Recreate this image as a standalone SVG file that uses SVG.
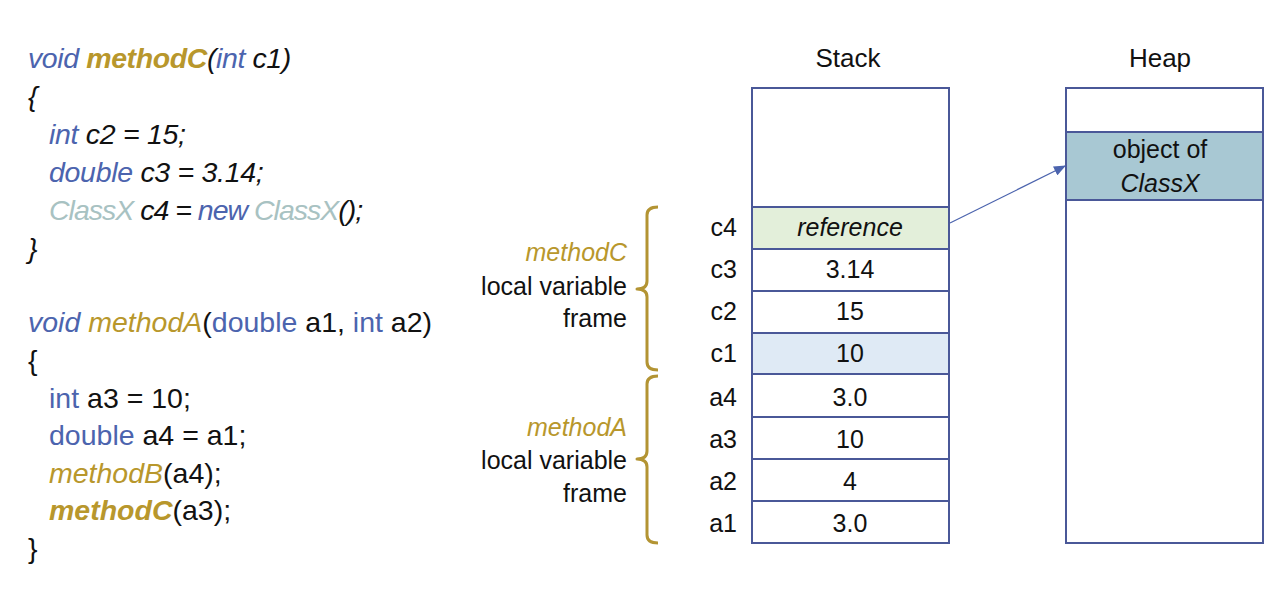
<svg xmlns="http://www.w3.org/2000/svg" width="1280" height="591" viewBox="0 0 1280 591">
<defs>
<style>
text{font-family:"Liberation Sans",Arial,sans-serif;fill:#111;}
.code{font-size:28.5px;}
.it{font-style:italic;}
.bd{font-weight:bold;}
.kw{fill:#4c64ae;}
.mt{fill:#b8972c;}
.cls{fill:#a8c2c2;}
.lbl{font-size:25px;}
.val{font-size:25px;text-anchor:middle;}
.var{font-size:25px;text-anchor:end;}
.ttl{font-size:26px;text-anchor:middle;}
.cell{stroke:#4a5898;stroke-width:2;}
.brace{fill:none;stroke:#b39433;stroke-width:3;stroke-linejoin:round;}
.conn{stroke:#4c64ae;stroke-width:1.2;fill:none;}
</style>
<marker id="arr" markerWidth="12" markerHeight="10" refX="11" refY="5" orient="auto" markerUnits="userSpaceOnUse">
<path d="M0,0 L12,5 L0,10 Z" fill="#4c64ae"/>
</marker>
</defs>
<rect width="1280" height="591" fill="#fff"/>

<g id="codeC" class="code it">
<text x="28" y="68" letter-spacing="-0.4"><tspan class="kw">void </tspan><tspan class="mt bd">methodC</tspan>(<tspan class="kw">int</tspan> c1)</text>
<text x="28" y="106">{</text>
<text x="49" y="144" letter-spacing="-0.3"><tspan class="kw">int</tspan> c2 = 15;</text>
<text x="49" y="182" letter-spacing="-0.3"><tspan class="kw">double</tspan> c3 = 3.14;</text>
<text x="49" y="220" letter-spacing="-1"><tspan class="cls">ClassX</tspan> c4 = <tspan class="kw">new</tspan> <tspan class="cls">ClassX</tspan>();</text>
<text x="28" y="258">}</text>
</g>

<g id="codeA" class="code">
<text x="28" y="332"><tspan class="kw it">void </tspan><tspan class="mt it">methodA</tspan>(<tspan class="kw">double</tspan> a1, <tspan class="kw">int</tspan> a2)</text>
<text x="28" y="370">{</text>
<text x="49" y="408"><tspan class="kw">int</tspan> a3 = 10;</text>
<text x="49" y="445"><tspan class="kw">double</tspan> a4 = a1;</text>
<text x="49" y="483"><tspan class="mt it">methodB</tspan>(a4);</text>
<text x="49" y="520"><tspan class="mt it bd">methodC</tspan>(a3);</text>
<text x="28" y="558">}</text>
</g>

<g id="frameC">
<text class="lbl it mt" x="627" y="261" text-anchor="end">methodC</text>
<text class="lbl" x="627" y="295" text-anchor="end">local variable</text>
<text class="lbl" x="627" y="327" text-anchor="end">frame</text>
<path class="brace" d="M658,207 Q647,207 647,215 L647,281 Q647,289 637,289 Q647,289 647,297 L647,362 Q647,370 658,370"/>
</g>

<g id="frameA">
<text class="lbl it mt" x="627" y="436" text-anchor="end">methodA</text>
<text class="lbl" x="627" y="469" text-anchor="end">local variable</text>
<text class="lbl" x="627" y="502" text-anchor="end">frame</text>
<path class="brace" d="M658,376 Q647,376 647,384 L647,451 Q647,459 637,459 Q647,459 647,467 L647,535 Q647,543 658,543"/>
</g>

<g id="stack">
<text class="ttl" x="848" y="67">Stack</text>
<rect class="cell" x="752" y="88" width="197" height="119" fill="#fff"/>
</g>
<g id="cell-c4"><rect class="cell" x="752" y="207" width="197" height="42" fill="#e3efda"/><text class="var" x="737" y="236">c4</text><text class="val it" x="850" y="236">reference</text></g>
<g id="cell-c3"><rect class="cell" x="752" y="249" width="197" height="42" fill="#fff"/><text class="var" x="737" y="278">c3</text><text class="val" x="850" y="278">3.14</text></g>
<g id="cell-c2"><rect class="cell" x="752" y="291" width="197" height="42" fill="#fff"/><text class="var" x="737" y="320">c2</text><text class="val" x="850" y="320">15</text></g>
<g id="cell-c1"><rect class="cell" x="752" y="333" width="197" height="41" fill="#dfeaf5"/><text class="var" x="737" y="362">c1</text><text class="val" x="850" y="362">10</text></g>
<g id="cell-a4"><rect class="cell" x="752" y="374" width="197" height="43" fill="#fff"/><text class="var" x="737" y="406">a4</text><text class="val" x="850" y="406">3.0</text></g>
<g id="cell-a3"><rect class="cell" x="752" y="417" width="197" height="42" fill="#fff"/><text class="var" x="737" y="448">a3</text><text class="val" x="850" y="448">10</text></g>
<g id="cell-a2"><rect class="cell" x="752" y="459" width="197" height="42" fill="#fff"/><text class="var" x="737" y="490">a2</text><text class="val" x="850" y="490">4</text></g>
<g id="cell-a1"><rect class="cell" x="752" y="501" width="197" height="42" fill="#fff"/><text class="var" x="737" y="532">a1</text><text class="val" x="850" y="532">3.0</text></g>

<g id="heap">
<text class="ttl" x="1160" y="67">Heap</text>
<rect class="cell" x="1066" y="88" width="197" height="455" fill="#fff"/>
</g>
<g id="object">
<rect class="cell" x="1066" y="132" width="197" height="68" fill="#a8c8d3"/>
<text class="val" x="1160" y="158">object of</text>
<text class="val it" x="1160" y="192">ClassX</text>
</g>

<g id="connectors">
<line class="conn" x1="950" y1="223" x2="1065" y2="166" marker-end="url(#arr)"/>
</g>
</svg>
